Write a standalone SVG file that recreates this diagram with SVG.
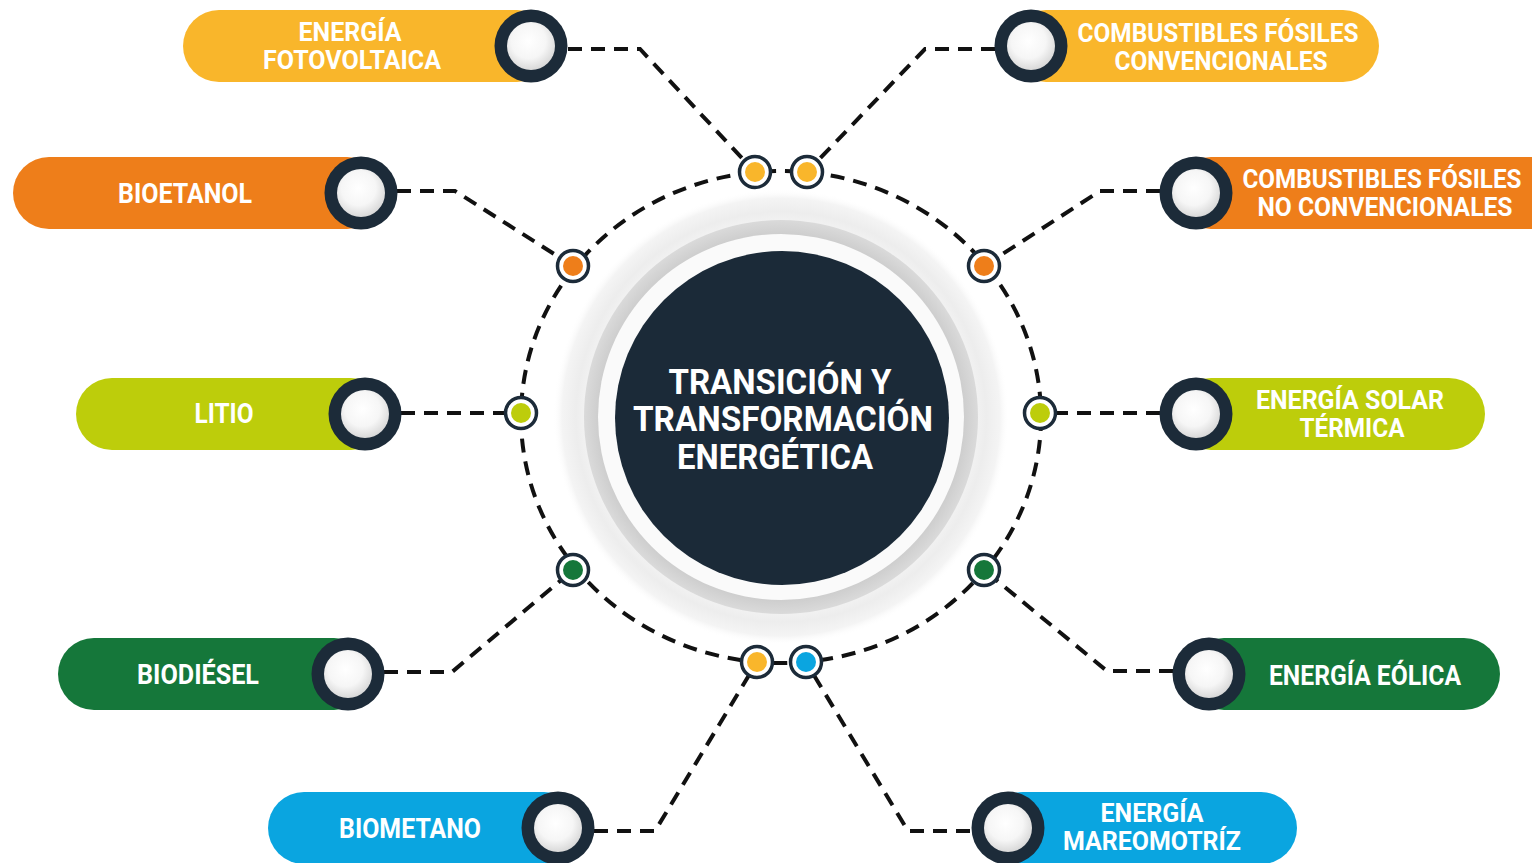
<svg xmlns="http://www.w3.org/2000/svg" width="1532" height="863" viewBox="0 0 1532 863">
<defs>
  <radialGradient id="knob" cx="45%" cy="40%" r="60%">
    <stop offset="0" stop-color="#ffffff"/>
    <stop offset="0.6" stop-color="#f6f6f6"/>
    <stop offset="1" stop-color="#d9d9d9"/>
  </radialGradient>
  <radialGradient id="halo" cx="50%" cy="50%" r="50%">
    <stop offset="0" stop-color="#ffffff"/>
    <stop offset="0.80" stop-color="#f8f8f8"/>
    <stop offset="0.90" stop-color="#ededed"/>
    <stop offset="0.96" stop-color="#f4f4f4"/>
    <stop offset="1" stop-color="#ffffff" stop-opacity="0"/>
  </radialGradient>
  <radialGradient id="band" cx="50%" cy="50%" r="50%">
    <stop offset="0.90" stop-color="#c9c9c9"/>
    <stop offset="1" stop-color="#dadada"/>
  </radialGradient>
</defs>
<style>
  .lbl { font-family: Roboto, "Liberation Sans", sans-serif; font-weight: 700; fill: #ffffff; text-anchor: middle; }
  .s1 { font-size: 27px; }
  .s2 { font-size: 25px; }
  .title { font-family: Roboto, "Liberation Sans", sans-serif; font-weight: 700; fill: #ffffff; text-anchor: middle; font-size: 35px; }
  .ring { fill: #1c2b39; }
  .knob { fill: url(#knob); }
  .conn { fill: none; stroke: #111111; stroke-width: 4; stroke-dasharray: 14 9; }
  .dot { fill: #ffffff; stroke: #1c2b39; stroke-width: 3.5; }
  .yel { fill: #f9b62b; }
  .ora { fill: #ee7e1a; }
  .lim { fill: #bdcd0b; }
  .grn { fill: #15773a; }
  .blu { fill: #0aa5e0; }
</style>
<rect width="1532" height="863" fill="#ffffff"/>

<g id="center">
  <circle cx="781" cy="417" r="228" fill="url(#halo)"/>
  <circle cx="781" cy="417" r="197" fill="url(#band)"/>
  <circle cx="781" cy="417" r="183" fill="#fafafa"/>
  <circle cx="782" cy="418" r="167" fill="#1b2a38"/>
  <text class="title" x="780" y="394" textLength="223" lengthAdjust="spacingAndGlyphs">TRANSICIÓN Y</text>
  <text class="title" x="783" y="431" textLength="300" lengthAdjust="spacingAndGlyphs">TRANSFORMACIÓN</text>
  <text class="title" x="775" y="469" textLength="196" lengthAdjust="spacingAndGlyphs">ENERGÉTICA</text>
</g>

<g id="connectors">
  <ellipse class="conn" cx="781" cy="417" rx="260" ry="246"/>
  <polyline class="conn" points="568,49 640,49 755,172"/>
  <polyline class="conn" points="397,191 455,191 573,266"/>
  <polyline class="conn" points="401,413 521,413"/>
  <polyline class="conn" points="384,672 452,672 573,570"/>
  <polyline class="conn" points="594,831 655,831 757,662"/>
  <polyline class="conn" points="995,49 925,49 807,172"/>
  <polyline class="conn" points="1160,191 1100,191 984,266"/>
  <polyline class="conn" points="1160,413 1040,413"/>
  <polyline class="conn" points="1173,671 1107,671 984,570"/>
  <polyline class="conn" points="970,831 908,831 806,662"/>
</g>

<g id="ring-dots">
  <circle class="dot" cx="755" cy="172" r="15.5"/><circle class="yel" cx="755" cy="172" r="10"/>
  <circle class="dot" cx="807" cy="172" r="15.5"/><circle class="yel" cx="807" cy="172" r="10"/>
  <circle class="dot" cx="573" cy="266" r="15.5"/><circle class="ora" cx="573" cy="266" r="10"/>
  <circle class="dot" cx="984" cy="266" r="15.5"/><circle class="ora" cx="984" cy="266" r="10"/>
  <circle class="dot" cx="521" cy="413" r="15.5"/><circle class="lim" cx="521" cy="413" r="10"/>
  <circle class="dot" cx="1040" cy="413" r="15.5"/><circle class="lim" cx="1040" cy="413" r="10"/>
  <circle class="dot" cx="573" cy="570" r="15.5"/><circle class="grn" cx="573" cy="570" r="10"/>
  <circle class="dot" cx="984" cy="570" r="15.5"/><circle class="grn" cx="984" cy="570" r="10"/>
  <circle class="dot" cx="757" cy="662" r="15.5"/><circle class="yel" cx="757" cy="662" r="10"/>
  <circle class="dot" cx="806" cy="662" r="15.5"/><circle class="blu" cx="806" cy="662" r="10"/>
</g>

<g id="node-fotovoltaica">
  <rect class="yel" x="183" y="10" width="370" height="72" rx="36"/>
  <circle class="ring" cx="531" cy="46" r="36.5"/>
  <circle class="knob" cx="531" cy="46" r="24"/>
  <text class="lbl s2" x="350" y="41" textLength="103" lengthAdjust="spacingAndGlyphs">ENERGÍA</text>
  <text class="lbl s2" x="352" y="69" textLength="178" lengthAdjust="spacingAndGlyphs">FOTOVOLTAICA</text>
</g>

<g id="node-bioetanol">
  <rect class="ora" x="13" y="157" width="370" height="72" rx="36"/>
  <circle class="ring" cx="361" cy="193" r="36.5"/>
  <circle class="knob" cx="361" cy="193" r="24"/>
  <text class="lbl s1" x="185" y="203" textLength="134" lengthAdjust="spacingAndGlyphs">BIOETANOL</text>
</g>

<g id="node-litio">
  <rect class="lim" x="76" y="378" width="311" height="72" rx="36"/>
  <circle class="ring" cx="365" cy="414" r="36.5"/>
  <circle class="knob" cx="365" cy="414" r="24"/>
  <text class="lbl s1" x="224" y="423" textLength="59" lengthAdjust="spacingAndGlyphs">LITIO</text>
</g>

<g id="node-biodiesel">
  <rect class="grn" x="58" y="638" width="312" height="72" rx="36"/>
  <circle class="ring" cx="348" cy="674" r="36.5"/>
  <circle class="knob" cx="348" cy="674" r="24"/>
  <text class="lbl s1" x="198" y="684" textLength="122" lengthAdjust="spacingAndGlyphs">BIODIÉSEL</text>
</g>

<g id="node-biometano">
  <rect class="blu" x="268" y="792" width="312" height="72" rx="36"/>
  <circle class="ring" cx="558" cy="828" r="36.5"/>
  <circle class="knob" cx="558" cy="828" r="24"/>
  <text class="lbl s1" x="410" y="838" textLength="142" lengthAdjust="spacingAndGlyphs">BIOMETANO</text>
</g>

<g id="node-convencionales">
  <rect class="yel" x="1010" y="10" width="369" height="72" rx="36"/>
  <circle class="ring" cx="1031" cy="46" r="36.5"/>
  <circle class="knob" cx="1031" cy="46" r="24"/>
  <text class="lbl s2" x="1218" y="42" textLength="281" lengthAdjust="spacingAndGlyphs">COMBUSTIBLES FÓSILES</text>
  <text class="lbl s2" x="1221" y="70" textLength="213" lengthAdjust="spacingAndGlyphs">CONVENCIONALES</text>
</g>

<g id="node-no-convencionales">
  <rect class="ora" x="1175" y="157" width="400" height="72" rx="36"/>
  <circle class="ring" cx="1196" cy="193" r="36.5"/>
  <circle class="knob" cx="1196" cy="193" r="24"/>
  <text class="lbl s2" x="1382" y="188" textLength="279" lengthAdjust="spacingAndGlyphs">COMBUSTIBLES FÓSILES</text>
  <text class="lbl s2" x="1385" y="216" textLength="255" lengthAdjust="spacingAndGlyphs">NO CONVENCIONALES</text>
</g>

<g id="node-solar-termica">
  <rect class="lim" x="1175" y="378" width="310" height="72" rx="36"/>
  <circle class="ring" cx="1196" cy="414" r="36.5"/>
  <circle class="knob" cx="1196" cy="414" r="24"/>
  <text class="lbl s2" x="1350" y="409" textLength="188" lengthAdjust="spacingAndGlyphs">ENERGÍA SOLAR</text>
  <text class="lbl s2" x="1352" y="437" textLength="105" lengthAdjust="spacingAndGlyphs">TÉRMICA</text>
</g>

<g id="node-eolica">
  <rect class="grn" x="1188" y="638" width="312" height="72" rx="36"/>
  <circle class="ring" cx="1209" cy="674" r="36.5"/>
  <circle class="knob" cx="1209" cy="674" r="24"/>
  <text class="lbl s1" x="1365" y="685" textLength="192" lengthAdjust="spacingAndGlyphs">ENERGÍA EÓLICA</text>
</g>

<g id="node-mareomotriz">
  <rect class="blu" x="987" y="792" width="310" height="72" rx="36"/>
  <circle class="ring" cx="1008" cy="828" r="36.5"/>
  <circle class="knob" cx="1008" cy="828" r="24"/>
  <text class="lbl s2" x="1152" y="822" textLength="103" lengthAdjust="spacingAndGlyphs">ENERGÍA</text>
  <text class="lbl s2" x="1152" y="850" textLength="178" lengthAdjust="spacingAndGlyphs">MAREOMOTRÍZ</text>
</g>
</svg>
